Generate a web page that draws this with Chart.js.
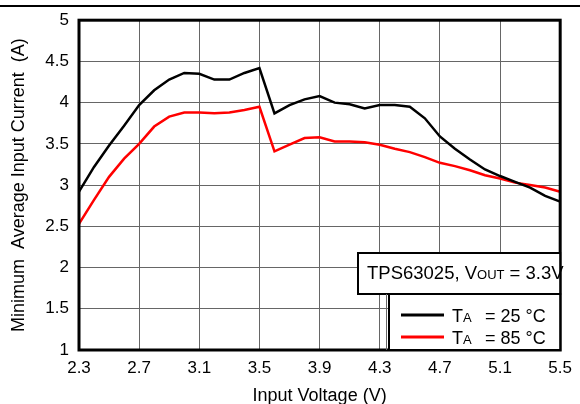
<!DOCTYPE html>
<html>
<head>
<meta charset="utf-8">
<script src="https://cdn.jsdelivr.net/npm/chart.js@4"></script>
<style>
  html, body { margin: 0; padding: 0; background: #fff; }
  #wrap { width: 580px; height: 404px; }
</style>
</head>
<body>
<div id="wrap"><canvas id="graficoCorriente" width="580" height="404"></canvas></div>
<script>
const voltajes = [2.3, 2.4, 2.5, 2.6, 2.7, 2.8, 2.9, 3.0, 3.1, 3.2, 3.3, 3.4, 3.5, 3.6, 3.7, 3.8, 3.9, 4.0,
                  4.1, 4.2, 4.3, 4.4, 4.5, 4.6, 4.7, 4.8, 4.9, 5.0, 5.1, 5.2, 5.3, 5.4, 5.5];
const corriente25 = [2.92, 3.22, 3.48, 3.72, 3.97, 4.15, 4.28, 4.36, 4.35, 4.28, 4.28, 4.36, 4.42, 3.87, 3.97, 4.04, 4.08, 4.00,
                     3.98, 3.93, 3.97, 3.97, 3.95, 3.81, 3.59, 3.44, 3.31, 3.19, 3.11, 3.04, 2.97, 2.87, 2.80];
const corriente85 = [2.53, 2.82, 3.10, 3.32, 3.50, 3.71, 3.83, 3.88, 3.88, 3.87, 3.88, 3.91, 3.95, 3.41, 3.49, 3.57, 3.58, 3.53,
                     3.53, 3.52, 3.49, 3.44, 3.40, 3.34, 3.27, 3.23, 3.18, 3.12, 3.08, 3.03, 3.00, 2.97, 2.92];
const ticksX = [2.3, 2.7, 3.1, 3.5, 3.9, 4.3, 4.7, 5.1, 5.5];
const ticksY = [1, 1.5, 2, 2.5, 3, 3.5, 4, 4.5, 5];
const etiquetas = ['T', 'A', '= 25 °C', '= 85 °C'];

const FUENTE = '"Liberation Sans", Arial, sans-serif';

// marco, caja de texto y leyenda dibujados encima
const cajasPlugin = {
    id: 'cajas',
    afterDraw(chart) {
        const c = chart.ctx;
        const a = chart.chartArea;
        c.save();
        // linea superior
        c.fillStyle = '#000';
        c.fillRect(0, 5, 580, 2);
        // marco del grafico
        c.strokeStyle = '#000';
        c.lineWidth = 3;
        c.strokeRect(a.left, a.top, a.right - a.left, a.bottom - a.top);

        // caja TPS63025
        c.fillStyle = '#fff';
        c.fillRect(358, 253, a.right - 358, 41);
        c.lineWidth = 2;
        c.strokeRect(358, 253, a.right - 358, 41);
        c.fillStyle = '#000';
        c.textBaseline = 'alphabetic';
        let x = 367;
        c.font = '18.5px ' + FUENTE;
        c.fillText('TPS63025, V', x, 279);
        x += c.measureText('TPS63025, V').width;
        c.font = '13px ' + FUENTE;
        c.fillText('OUT', x, 279);
        x += c.measureText('OUT').width;
        c.font = '18.5px ' + FUENTE;
        c.fillText(' = 3.3V', x, 279);

        // leyenda
        c.fillStyle = '#fff';
        c.fillRect(389, 294, a.right - 389, a.bottom - 294);
        c.lineWidth = 2;
        c.strokeStyle = '#000';
        c.strokeRect(389, 294, a.right - 389, a.bottom - 294);
        c.lineWidth = 1;
        c.strokeStyle = '#666';
        c.beginPath();
        c.moveTo(386.5, 294);
        c.lineTo(386.5, a.bottom);
        c.stroke();

        const series = chart.data.datasets;
        const filas = [315, 337];
        series.forEach(function (ds, i) {
            c.strokeStyle = ds.borderColor;
            c.lineWidth = 3;
            c.beginPath();
            c.moveTo(401, filas[i]);
            c.lineTo(444, filas[i]);
            c.stroke();
            c.fillStyle = '#000';
            c.font = '18px ' + FUENTE;
            c.fillText(etiquetas[0], 452, filas[i] + 7);
            c.font = '13px ' + FUENTE;
            c.fillText(etiquetas[1], 463, filas[i] + 7);
            c.font = '18px ' + FUENTE;
            c.fillText(etiquetas[2 + i], 485, filas[i] + 7);
        });
        c.restore();
    }
};

const ctx = document.getElementById('graficoCorriente').getContext('2d');
const grafico = new Chart(ctx, {
    type: 'line',
    data: {
        datasets: [{
            label: '25',
            data: voltajes.map((v, i) => ({ x: v, y: corriente25[i] })),
            borderColor: '#000',
            borderWidth: 2.5,
            pointRadius: 0,
            tension: 0
        }, {
            label: '85',
            data: voltajes.map((v, i) => ({ x: v, y: corriente85[i] })),
            borderColor: '#ff0000',
            borderWidth: 2.5,
            pointRadius: 0,
            tension: 0
        }]
    },
    options: {
        responsive: false,
        animation: false,
        layout: { padding: { left: 0, top: 20, right: 14, bottom: 0 } },
        plugins: {
            legend: { display: false },
            tooltip: { enabled: false }
        },
        scales: {
            x: {
                type: 'linear',
                min: 2.3,
                max: 5.5,
                afterFit: function (s) { s.height = 54; },
                afterBuildTicks: function (s) { s.ticks = ticksX.map(v => ({ value: v })); },
                grid: { color: '#666', lineWidth: 1, drawTicks: false },
                border: { display: false },
                ticks: {
                    padding: 8,
                    color: '#000',
                    font: { family: FUENTE, size: 17 },
                    maxRotation: 0,
                    callback: v => v.toFixed(1)
                },
                title: {
                    display: true,
                    text: 'Input Voltage (V)',
                    color: '#000',
                    font: { family: FUENTE, size: 18 },
                    padding: { top: 0, bottom: -3 }
                }
            },
            y: {
                min: 1,
                max: 5,
                afterFit: function (s) { s.width = 79; },
                afterBuildTicks: function (s) { s.ticks = ticksY.map(v => ({ value: v })); },
                grid: { color: '#666', lineWidth: 1, drawTicks: false },
                border: { display: false },
                ticks: {
                    padding: 10,
                    color: '#000',
                    font: { family: FUENTE, size: 17 },
                    callback: v => String(v)
                },
                title: {
                    display: true,
                    text: 'Minimum  Average Input Current  (A)',
                    color: '#000',
                    font: { family: FUENTE, size: 18 },
                    padding: { top: 8, bottom: 0 }
                }
            }
        }
    },
    plugins: [cajasPlugin]
});
</script>
</body>
</html>
